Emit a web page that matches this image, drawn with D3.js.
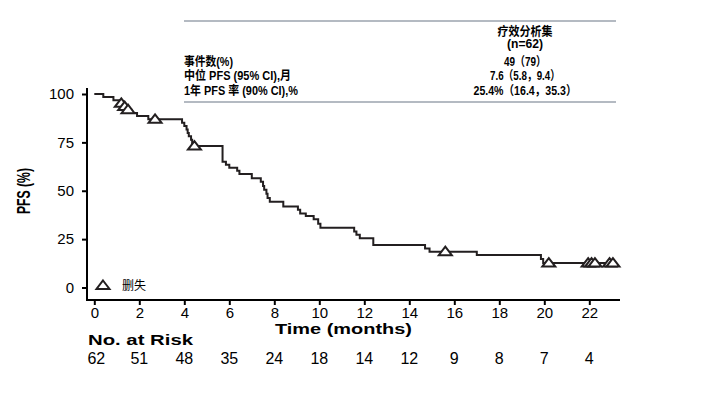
<!DOCTYPE html>
<html>
<head>
<meta charset="utf-8">
<script src="https://cdn.jsdelivr.net/npm/d3@7"></script>
<style>
  html, body { margin: 0; padding: 0; background: #fff; }
  svg { display: block; }
  text { font-family: "Liberation Sans", Arial, sans-serif; fill: #000; }
</style>
</head>
<body>
<svg id="chart" width="709" height="394"></svg>
<script>
// ---- Data ----
const stepTimes = [0, 0.4, 0.85, 1.1, 1.3, 1.5, 1.65, 1.9, 2.4,
  3.9, 4.0, 4.1, 4.15, 4.2, 4.3, 4.35, 4.4,
  5.7, 5.85, 6.0, 6.35, 6.45,
  7.0, 7.4, 7.5, 7.55, 7.65, 7.7, 7.8,
  8.4, 9.05, 9.15, 9.4, 9.75, 9.95, 10.05,
  11.55, 11.65, 11.8, 12.4, 14.7, 14.9, 17.0, 19.85, 19.95];
const survival = [100, 98.4, 96.8, 95.2, 93.5, 91.9, 90.2, 88.6, 86.9,
  85.2, 83.4, 81.7, 79.9, 78.2, 76.4, 74.7, 73.1,
  65.0, 63.5, 61.9, 60.3, 58.7,
  56.4, 54.7, 52.5, 50.5, 48.4, 46.3, 44.3,
  41.8, 40.2, 38.3, 36.9, 35.3, 33.0, 30.9,
  29.0, 27.3, 25.4, 22.0, 20.2, 18.5, 16.8, 14.7, 12.6];
const lastTime = 23.2;
const censorTimes = [1.2, 1.35, 1.5, 2.7, 4.45, 15.6, 20.2, 21.95, 22.1, 22.25, 22.9, 23.05];

const xTicks = [0, 2, 4, 6, 8, 10, 12, 14, 16, 18, 20, 22];
const yTicks = [0, 25, 50, 75, 100];
const atRisk = [62, 51, 48, 35, 24, 18, 14, 12, 9, 8, 7, 4];

const tableHeader = ["疗效分析集", "(n=62)"];
const tableRowLabels = ["事件数(%)", "中位 PFS (95% CI),月", "1年 PFS 率 (90% CI),%"];
const tableRowValues = ["49（79）", "7.6（5.8，9.4）", "25.4%（16.4，35.3）"];

// ---- Chart ----
const svg = d3.select("#chart");
const x = d3.scaleLinear().domain([0, 22]).range([94.3, 589.3]);
const y = d3.scaleLinear().domain([0, 100]).range([287.5, 94]);

const axisColor = "#000";
const lineColor = "#231f20";
const latin = "'Liberation Sans', Arial, sans-serif";

// y axis
const yAxisX = 87;
const xAxisY = 300;
const gy = svg.append("g").attr("transform", `translate(${yAxisX},0)`)
  .call(d3.axisLeft(y).tickValues(yTicks).tickSize(5).tickPadding(8));
gy.select(".domain").remove();
gy.selectAll(".tick line").attr("stroke", axisColor).attr("stroke-width", 2);
gy.selectAll(".tick text").style("font-size", "15px").style("font-family", latin).attr("fill", "#000");
svg.append("line").attr("x1", yAxisX).attr("x2", yAxisX).attr("y1", 88).attr("y2", xAxisY + 1)
  .attr("stroke", axisColor).attr("stroke-width", 2);

// x axis
const gx = svg.append("g").attr("transform", `translate(0,${xAxisY})`)
  .call(d3.axisBottom(x).tickValues(xTicks).tickSize(5).tickPadding(2));
gx.select(".domain").remove();
gx.selectAll(".tick line").attr("stroke", axisColor).attr("stroke-width", 2);
gx.selectAll(".tick text").style("font-size", "15px").style("font-family", latin).attr("fill", "#000");
svg.append("line").attr("x1", yAxisX - 1).attr("x2", 620).attr("y1", xAxisY).attr("y2", xAxisY)
  .attr("stroke", axisColor).attr("stroke-width", 2);

// axis titles
svg.append("text").attr("x", 275).attr("y", 334)
  .attr("textLength", 137).attr("lengthAdjust", "spacingAndGlyphs")
  .style("font-size", "15px").style("font-weight", "bold").text("Time (months)");
svg.append("text").attr("transform", `translate(30,214) rotate(-90)`)
  .attr("textLength", 46).attr("lengthAdjust", "spacingAndGlyphs")
  .style("font-size", "19px").style("font-weight", "bold").text("PFS (%)");

// KM step line
const pts = stepTimes.map((t, i) => [t, survival[i]]);
pts.push([lastTime, survival[survival.length - 1]]);
const line = d3.line().x(d => x(d[0])).y(d => y(d[1])).curve(d3.curveStepAfter);
svg.append("path").datum(pts).attr("d", line)
  .attr("fill", "none").attr("stroke", lineColor).attr("stroke-width", 2);

// censor marks
function survAt(t) {
  let s = survival[0];
  for (let i = 0; i < stepTimes.length; i++) if (stepTimes[i] <= t) s = survival[i];
  return s;
}
const triPath = "M0,-5L6.5,3.5L-6.5,3.5Z";
svg.append("g").selectAll("path").data(censorTimes).join("path")
  .attr("transform", d => `translate(${x(d)},${y(survAt(d))})`)
  .attr("d", triPath).attr("fill", "#fff").attr("stroke", lineColor).attr("stroke-width", 2);

// legend
svg.append("path").attr("transform", `translate(103,${y(0) - 2})`).attr("d", triPath)
  .attr("fill", "#fff").attr("stroke", lineColor).attr("stroke-width", 2);
svg.append("text").attr("x", 122).attr("y", y(0) + 2).style("font-size", "12px")
  .style("font-family", "'Noto Sans CJK SC', sans-serif").text("删失");

// at risk
svg.append("text").attr("x", 88).attr("y", 345)
  .attr("textLength", 105).attr("lengthAdjust", "spacingAndGlyphs")
  .style("font-size", "15.5px").style("font-weight", "bold").text("No. at Risk");
svg.append("g").selectAll("text").data(atRisk).join("text")
  .attr("x", (d, i) => x(xTicks[i]) + (i === 0 ? 2 : 0)).attr("y", 364).attr("text-anchor", "middle")
  .style("font-size", "16px").text(d => d);

// table
const tLeft = 184, tRight = 616, tCenter = 525;
const tblColor = "#6b7785";
svg.append("line").attr("x1", tLeft).attr("x2", tRight).attr("y1", 21).attr("y2", 21).attr("stroke", tblColor).attr("stroke-width", 1.2);
svg.append("line").attr("x1", tLeft).attr("x2", tRight).attr("y1", 102).attr("y2", 102).attr("stroke", tblColor).attr("stroke-width", 1.2);
const tfont = "'Liberation Sans', 'Noto Sans CJK SC', sans-serif";
const headerW = [55, 36];
const labelW = [49, 107, 114];
const valueW = [42, 70, 103];
svg.append("g").selectAll("text").data(tableHeader).join("text")
  .attr("x", (d, i) => tCenter - headerW[i] / 2).attr("y", (d, i) => 35.5 + i * 12.8)
  .attr("textLength", (d, i) => headerW[i]).attr("lengthAdjust", "spacingAndGlyphs")
  .style("font-size", "12.5px").style("font-weight", "bold").style("font-family", tfont).text(d => d);
svg.append("g").selectAll("text").data(tableRowLabels).join("text")
  .attr("x", tLeft).attr("y", (d, i) => 66.2 + i * 14.2)
  .attr("textLength", (d, i) => labelW[i]).attr("lengthAdjust", "spacingAndGlyphs")
  .style("font-size", "12.5px").style("font-weight", "bold").style("font-family", tfont).text(d => d);
svg.append("g").selectAll("text").data(tableRowValues).join("text")
  .attr("x", (d, i) => tCenter - valueW[i] / 2).attr("y", (d, i) => 66.2 + i * 14.2)
  .attr("textLength", (d, i) => valueW[i]).attr("lengthAdjust", "spacingAndGlyphs")
  .style("font-size", "12.5px").style("font-weight", "bold").style("font-family", tfont).text(d => d);
</script>
</body>
</html>
